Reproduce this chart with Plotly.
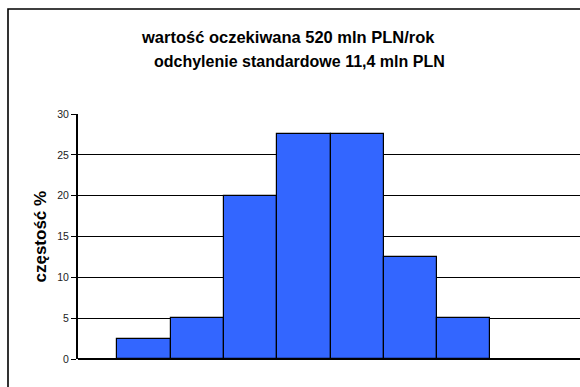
import plotly.graph_objects as go

# histogram classes and their frequency (%)
classes = [1, 2, 3, 4, 5, 6, 7]
frequency = [2.5, 5, 20, 27.5, 27.5, 12.5, 5]
y_ticks = [0, 5, 10, 15, 20, 25, 30]

title_line1 = "wartość oczekiwana 520 mln PLN/rok"
title_line2 = "odchylenie standardowe 11,4 mln PLN"
y_title = "częstość %"

W, H = 580, 387
L, R, T, B = 78, 0, 114, 28
plot_w = W - L - R
plot_h = H - T - B

fig = go.Figure()
fig.add_trace(go.Bar(
    x=classes, y=frequency, width=1.0,
    marker=dict(color="#3366FF", line=dict(color="#000000", width=1.2)),
    hoverinfo="skip",
))

# paper coordinates for the outer chart frame
def px_to_paper_x(px):
    return (px - L) / plot_w

def px_to_paper_y(py):
    return (H - B - py) / plot_h

fig.add_shape(type="rect", xref="paper", yref="paper",
              x0=px_to_paper_x(8), x1=px_to_paper_x(600),
              y0=px_to_paper_y(400), y1=px_to_paper_y(9),
              line=dict(color="#000000", width=1.6), layer="below")

fig.add_annotation(text=f"<b>{title_line1}</b>", xref="paper", yref="paper",
                   x=px_to_paper_x(288), y=px_to_paper_y(37), showarrow=False,
                   font=dict(family="Liberation Sans, Arial", size=16.5, color="#000"),
                   xanchor="center", yanchor="middle")
fig.add_annotation(text=f"<b>{title_line2}</b>", xref="paper", yref="paper",
                   x=px_to_paper_x(299), y=px_to_paper_y(62), showarrow=False,
                   font=dict(family="Liberation Sans, Arial", size=16, color="#000"),
                   xanchor="center", yanchor="middle")
fig.add_annotation(text=f"<b>{y_title}</b>", xref="paper", yref="paper",
                   x=px_to_paper_x(40), y=0.5, showarrow=False, textangle=-90,
                   font=dict(family="Liberation Sans, Arial", size=17, color="#000"),
                   xanchor="center", yanchor="middle")

fig.update_layout(
    width=W, height=H,
    margin=dict(l=L, r=R, t=T, b=B, pad=0),
    paper_bgcolor="#FFFFFF", plot_bgcolor="#FFFFFF",
    showlegend=False, bargap=0,
    font=dict(family="Liberation Sans, Arial", size=10, color="#000"),
)
fig.update_xaxes(range=[-0.238, -0.238 + plot_w / 53.3], showgrid=False,
                 showticklabels=False, ticks="", zeroline=False,
                 showline=False)
fig.update_yaxes(range=[0, 30], tickvals=y_ticks, ticktext=[str(v) for v in y_ticks],
                 showgrid=True, gridcolor="#000000", gridwidth=1,
                 zeroline=True, zerolinecolor="#000000", zerolinewidth=2,
                 showline=True, linecolor="#000000", linewidth=2,
                 ticks="outside", ticklen=5, tickcolor="#000000", tickwidth=1,
                 tickfont=dict(size=10.5, color="#222"))

fig.write_html("out.html")
